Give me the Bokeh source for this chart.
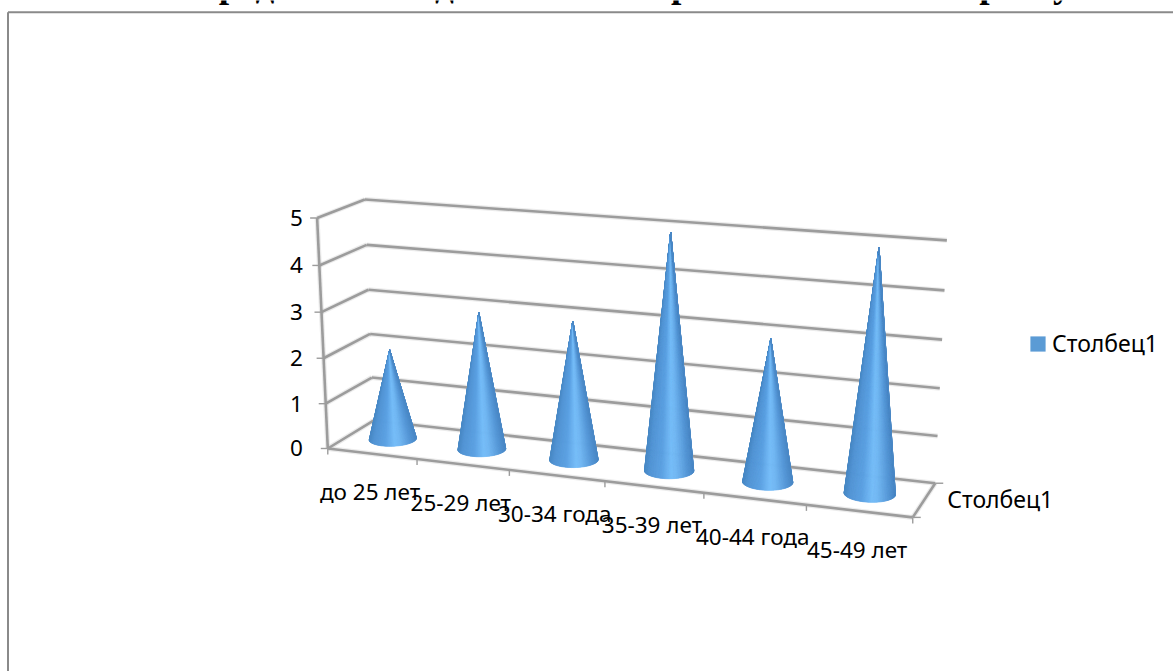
import numpy as np
from bokeh.core.properties import value
from bokeh.embed import file_html
from bokeh.models import Legend, LegendItem
from bokeh.plotting import figure
from bokeh.resources import INLINE

TITLE = "Распределение педагогических работников по возрасту"
categories = ["до 25 лет", "25-29 лет", "30-34 года", "35-39 лет", "40-44 года", "45-49 лет"]
values = [2, 3, 3, 5, 3, 5]
y_ticks = [0, 1, 2, 3, 4, 5]
series_name = "Столбец1"

W, H = 1173, 671
FONT = "Noto Sans"
GRID = "#9c9c9c"

# Camera calibration of the 3D box: (category, depth, value) -> page pixels.
calib = [
    ((0, 0, 0), (328, 447)), ((6, 0, 0), (912, 516)), ((0, 1, 0), (372, 420)),
    ((6, 1, 0), (935, 482)), ((0, 0, 5), (316, 217)), ((0, 1, 5), (365, 199)),
    ((6, 1, 5), (946, 240)), ((0, 1, 3), (368, 290)), ((6, 1, 3), (942, 339)),
    ((1, 0, 0), (417, 458)), ((3, 0, 0), (604, 483)), ((5, 0, 0), (806, 505)),
]
rows = []
for (u, d, v), (sx, sy) in calib:
    q = [u, d, v, 1]
    rows.append(q + [0, 0, 0, 0] + [-sx * c for c in q])
    rows.append([0, 0, 0, 0] + q + [-sy * c for c in q])
_, _, vt = np.linalg.svd(np.array(rows, float))
CAM = vt[-1].reshape(3, 4)


def project(u, d, v):
    s = CAM @ np.array([u, d, v, 1.0])
    return s[0] / s[2], s[1] / s[2]


STOPS_T = [0.0, 0.1, 0.35, 0.55, 0.66, 0.88, 1.0]
STOPS_RGB = np.array([
    [72, 136, 196], [82, 148, 212], [90, 160, 226], [116, 188, 248],
    [112, 182, 242], [84, 150, 214], [74, 136, 198]], float)


def shade(t):
    rgb = [np.interp(t, STOPS_T, STOPS_RGB[:, k]) for k in range(3)]
    return "#%02x%02x%02x" % tuple(int(round(c)) for c in rgb)


p = figure(width=W, height=H, x_range=(0, W), y_range=(H, 0), min_border=0,
           toolbar_location=None, output_backend="svg", outline_line_color=None)
p.axis.visible = False
p.grid.visible = False
p.background_fill_color = "white"

# Outer chart frame (continues past the right and bottom of the page)
p.multi_line([[7.5, 7.5], [7.5, W]], [[H, 11.7], [11.7, 11.7]], line_color="#8a8a8a", line_width=2)

# Title, cut by the top of the page as in the source
p.text([605], [-16], text=[TITLE], text_font=value("Liberation Serif"), text_font_style="bold",
       text_font_size="37.3px", text_align="center", text_baseline="alphabetic", text_color="black")

# Box lines
n = len(categories)
top = max(y_ticks)
lx, ly = [], []


def seg(a, b):
    pa, pb = project(*a), project(*b)
    lx.append([pa[0], pb[0]])
    ly.append([pa[1], pb[1]])


for t in y_ticks:
    seg((0, 0, t), (0, 1, t))
    seg((0, 1, t), (n, 1, t))
seg((0, 0, 0), (0, 0, top))
seg((0, 0, 0), (n, 0, 0))
seg((n, 0, 0), (n, 1, 0))
p.multi_line(lx, ly, line_color=GRID, line_width=5, line_alpha=0.2)
p.multi_line(lx, ly, line_color=GRID, line_width=2.6)

# Tick marks
tx, ty = [], []
for t in y_ticks:
    a = project(0, 0, t)
    tx.append([a[0] - 7, a[0]])
    ty.append([a[1], a[1]])
for i in range(n + 1):
    a = project(i, 0, 0)
    tx.append([a[0], a[0]])
    ty.append([a[1], a[1] + 6])
for d in (0, 1):
    a = project(n, d, 0)
    tx.append([a[0], a[0] + 8])
    ty.append([a[1], a[1]])
p.multi_line(tx, ty, line_color=GRID, line_width=1.4)

# Cones: fan of shaded strips from the apex to the front arc of the base circle
RADIUS = 0.24
theta = np.linspace(0, 2 * np.pi, 721)[:-1]
for i, val in enumerate(values):
    cu, cd = i + 0.48, 0.5
    apex = np.array(project(cu, cd, val))
    ring = np.array([project(cu + RADIUS * np.cos(a), cd + RADIUS * np.sin(a), 0) for a in theta])
    rel = ring - apex
    ang = np.arctan2(rel[:, 0], rel[:, 1])
    il, ir = int(np.argmin(ang)), int(np.argmax(ang))
    step = 1 if ring[(il + 1) % 720, 1] > ring[(il - 1) % 720, 1] else -1
    idx = [il]
    while idx[-1] != ir:
        idx.append((idx[-1] + step) % 720)
    idx = idx[::4] + [ir]
    arc = ring[idx]
    xmin, xmax = arc[:, 0].min(), arc[:, 0].max()
    xs, ys, cols = [], [], []
    for a, b in zip(arc[:-1], arc[1:]):
        xs.append([apex[0], a[0], b[0]])
        ys.append([apex[1], a[1], b[1]])
        cols.append(shade((0.5 * (a[0] + b[0]) - xmin) / (xmax - xmin)))
    p.patches(xs, ys, fill_color=cols, line_color=cols, line_width=0.7)

# Value labels
p.text([296] * len(y_ticks), [project(0, 0, t)[1] for t in y_ticks], text=[str(t) for t in y_ticks],
       text_font=value(FONT), text_font_size="22.5px", text_align="center", text_baseline="middle",
       text_color="black")

# Category labels
cat_xy = [project(i + 0.5, 0, 0) for i in range(n)]
p.text([c[0] - 2 for c in cat_xy], [c[1] + 38 for c in cat_xy], text=categories,
       text_font=value(FONT), text_font_size="22.5px", text_align="center", text_baseline="alphabetic",
       text_color="black")

# Depth label
dxy = project(n, 0.5, 0)
p.text([dxy[0] + 23], [dxy[1] - 1], text=[series_name], text_font=value(FONT), text_font_size="23px",
       text_align="left", text_baseline="middle", text_color="black")

# Legend (its swatch renderer has one quad outside the visible range)
swatch = p.quad(left=[-100], right=[-90], bottom=[-100], top=[-90], fill_color="#5b9bd5", line_color=None)
legend = Legend(items=[LegendItem(label=series_name, renderers=[swatch])], location=(1028, H - 359),
                background_fill_alpha=0, border_line_color=None, padding=0, margin=0, spacing=0,
                glyph_width=19, glyph_height=19, label_text_font=FONT, label_text_font_size="23px",
                label_text_color="black", label_standoff=5, label_height=22)
p.add_layout(legend, "center")

open("out.html", "w").write(file_html(p, INLINE))
